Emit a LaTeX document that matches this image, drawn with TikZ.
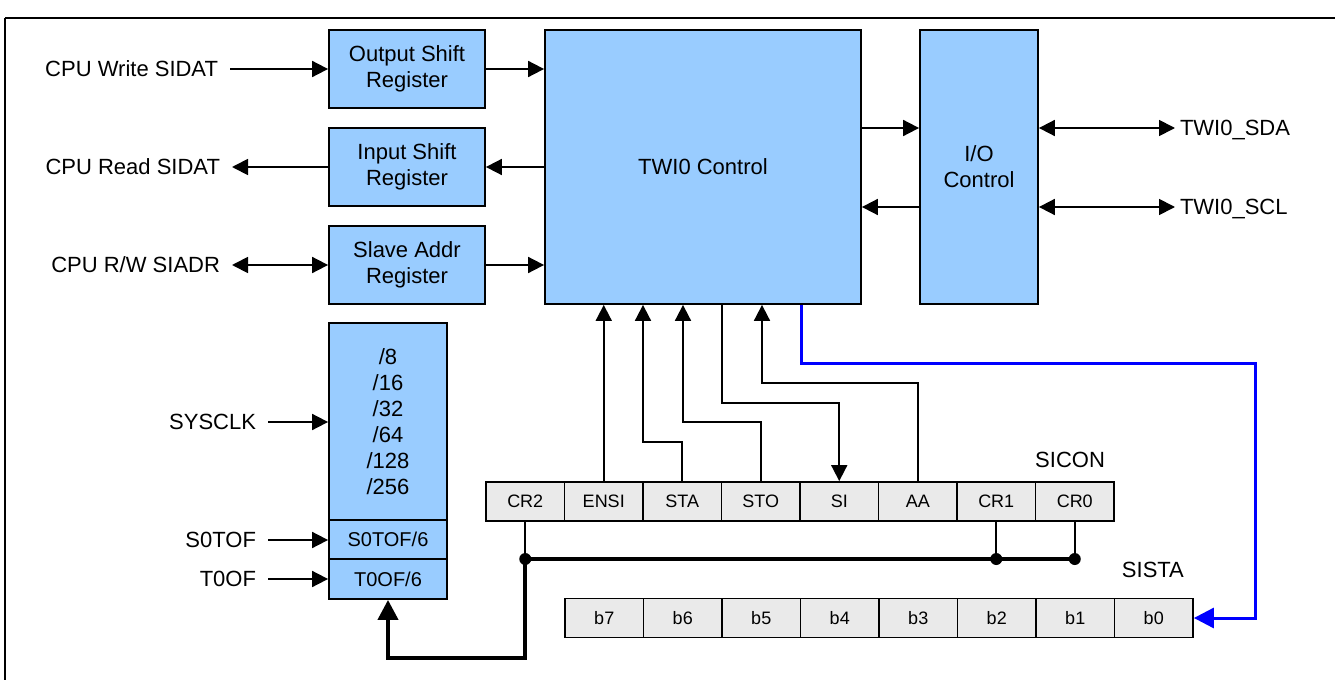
\documentclass[tikz,border=0pt]{standalone}
\usepackage{fontspec}
\setmainfont{Liberation Sans}
\usetikzlibrary{arrows.meta}
\definecolor{twiBlockFill}{RGB}{153,204,255}
\definecolor{twiCellFill}{RGB}{234,234,234}
\definecolor{twiBusBlue}{RGB}{0,0,255}

\begin{document}
\begin{tikzpicture}[x=0.5pt, y=-0.5pt,
  >={Triangle[length=8pt,width=8pt]},
  sig/.style={line width=0.9pt},
  bus/.style={line width=2pt, -{Triangle[length=10pt,width=10pt]}},
  blk/.style={draw, fill=twiBlockFill, line width=0.9pt, align=center, inner sep=0pt,
    font=\fontsize{11}{13}\selectfont},
  cell/.style={draw, fill=twiCellFill, line width=0.9pt, minimum width=39.25pt,
    minimum height=19.5pt, inner sep=0pt, text height=6.4pt, text depth=0pt,
    font=\fontsize{9}{10}\selectfont},
  lbl/.style={inner sep=0pt, outer sep=6pt, text height=7.9pt, text depth=0pt,
    font=\fontsize{11}{13}\selectfont},
  junc/.style={circle, fill, inner sep=0pt, minimum size=6pt}]
% Page size and outer frame
\useasboundingbox (0,0) rectangle (1335,680);
\clip (0,0) rectangle (1335,680);
\draw[line width=0.75pt] (5,700) -- (5,18);
\draw[line width=1.25pt] (5,18) -- (1345,18);
% Data registers
\begin{scope}[blk/.append style={minimum width=78pt, minimum height=39pt}]
  \node[blk] (osr) at (407,69) {Output Shift\\Register};
  \node[blk] (isr) at (407,167) {Input Shift\\Register};
  \node[blk] (sar) at (407,265) {Slave Addr\\Register};
\end{scope}
% Control blocks
\node[blk, minimum width=158pt, minimum height=137pt] (ctrl) at (703,167) {TWI0 Control};
\node[blk, minimum width=59pt, minimum height=137pt] (ioc) at (979,167) {I/O\\Control};
% Clock divider
\node[blk, minimum width=59pt, minimum height=98.5pt] (div) at (388,421.5) {/8\\/16\\/32\\/64\\/128\\/256};
\node[blk, minimum width=59pt, minimum height=19.5pt, font=\fontsize{10}{12}\selectfont] (s0d) at (388,539.5) {S0TOF/6};
\node[blk, minimum width=59pt, minimum height=20pt, font=\fontsize{10}{12}\selectfont] (t0d) at (388,579) {T0OF/6};
% Outside signals
\node[lbl, anchor=east] (cpuw) at (230,69) {CPU Write SIDAT};
\node[lbl, anchor=east] (cpur) at (232,167) {CPU Read SIDAT};
\node[lbl, anchor=east] (cpurw) at (232,265) {CPU R/W SIADR};
\node[lbl, anchor=east] (sysclk) at (268,422) {SYSCLK};
\node[lbl, anchor=east] (s0tof) at (268,540) {S0TOF};
\node[lbl, anchor=east] (t0of) at (268,579) {T0OF};
\node[lbl, anchor=west, outer sep=2.5pt] (sda) at (1175,128) {TWI0\_SDA};
\node[lbl, anchor=west, outer sep=2.5pt] (scl) at (1175,207) {TWI0\_SCL};
% SICON and SISTA bits
\foreach \name [count=\i from 0] in {CR2,ENSI,STA,STO,SI,AA,CR1,CR0}
  \node[cell] (con\i) at (525.25+78.5*\i,501.5) {\name};
\foreach \i in {0,...,7}
  \node[cell] (sta\i) at (1153.75-78.5*\i,618) {b\i};
\node[lbl, anchor=south east, outer sep=0pt] (siconlbl) at ([xshift=-5pt,yshift=7pt]con7.north east) {SICON};
\node[lbl, anchor=south east, outer sep=0pt] (sistalbl) at ([xshift=-5pt,yshift=10pt]sta0.north east) {SISTA};
% Register connections
\begin{scope}[sig]
  \draw[->] (cpuw.east) -- (osr.west);
  \draw[->] (isr.west) -- (cpur.east);
  \draw[<->] (cpurw.east) -- (sar.west);
  \draw[->] (osr.east) -- (osr.east -| ctrl.west);
  \draw[->] (ctrl.west |- isr.east) -- (isr.east);
  \draw[->] (sar.east) -- (sar.east -| ctrl.west);
  \draw[->] (ctrl.east |- sda.west) -- (ioc.west |- sda.west);
  \draw[->] (ioc.west |- scl.west) -- (ctrl.east |- scl.west);
  \draw[<->] (ioc.east |- sda.west) -- (sda.west);
  \draw[<->] (ioc.east |- scl.west) -- (scl.west);
  \draw[->] (sysclk.east) -- (sysclk.east -| div.west);
  \draw[->] (s0tof.east) -- (s0tof.east -| s0d.west);
  \draw[->] (t0of.east) -- (t0of.east -| t0d.west);
\end{scope}
% Control bits to TWI0 Control
\begin{scope}[sig]
  \draw[->] (con1.north) -- (con1.north |- ctrl.south);
  \draw[->] (con2.north) |- (643,442) -- (ctrl.south -| 643,0);
  \draw[->] (con3.north) |- (683,422) -- (ctrl.south -| 683,0);
  \draw[->] (ctrl.south -| 722,0) |- (con4.north |- 0,403) -- (con4.north);
  \draw[->] (con5.north) |- (762,383) -- (ctrl.south -| 762,0);
\end{scope}
% Status to SISTA
\draw[line width=1.5pt, twiBusBlue, -{Triangle[length=10pt,width=10pt]}]
  (ctrl.south -| 801,0) |- (1255,363) |- (sta0.east);
% Clock select bus
\node[junc] (j0) at (con0.south |- 0,559) {};
\node[junc] (j6) at (con6.south |- 0,559) {};
\node[junc] (j7) at (con7.south |- 0,559) {};
\draw[sig] (con0.south) -- (j0.center);
\draw[sig] (con6.south) -- (j6.center);
\draw[sig] (con7.south) -- (j7.center);
\draw[line width=2pt] (j0.center) -- (j7.center);
\draw[bus] (j0.center) -- (j0.center |- 0,658) -| (t0d.south);
\end{tikzpicture}
\end{document}
